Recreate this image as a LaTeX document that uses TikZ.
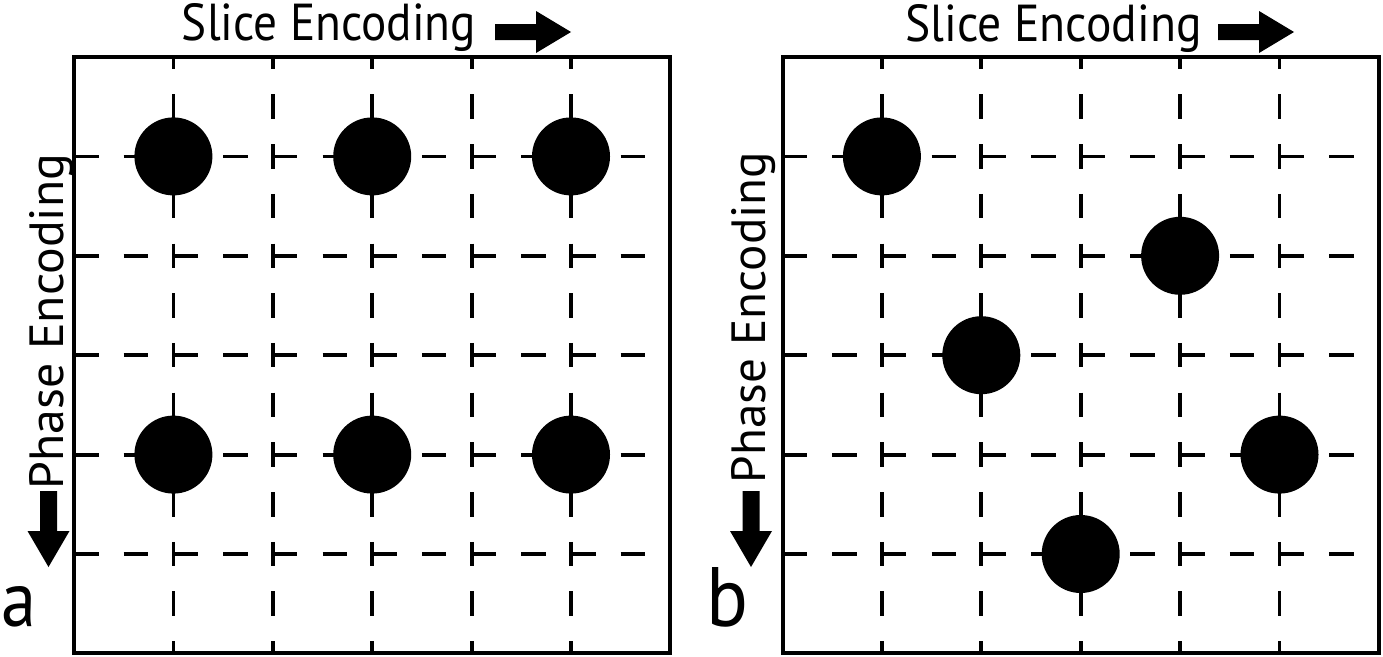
\documentclass[tikz,border=0pt]{standalone}
\usepackage{fontspec}
\setmainfont{PT Sans}
\usepackage{graphicx}
\tikzset{
  boxline/.style={line width=4pt},
  hgrid/.style={line width=3.8pt, dash pattern=on 24.5pt off 25.2pt, dash phase=0pt},
  vgrid/.style={line width=3.8pt, dash pattern=on 24.5pt off 25.2pt, dash phase=12.25pt},
  dot/.style={circle, fill=black, inner sep=0pt, minimum size=78pt},
  lbl/.style={inner sep=0pt, anchor=base},
}
\begin{document}
\begin{tikzpicture}[x=1pt,y=-1pt]
\useasboundingbox (0,0) rectangle (1383,656);
% ---------- panel a ----------
\begin{scope}[shift={(74,57)}]
  \foreach \k in {1,...,5} {
    \draw[vgrid] (\k*99.4,0) -- (\k*99.4,596.4);
    \draw[hgrid] (0,\k*99.4) -- (596.4,\k*99.4);
  }
  \draw[boxline] (0,0) rectangle (596.4,596.4);
  \node[dot] (a11) at (99.4,99.4) {};
  \node[dot] (a31) at (298.2,99.4) {};
  \node[dot] (a51) at (497,99.4) {};
  \node[dot] (a14) at (99.4,397.6) {};
  \node[dot] (a34) at (298.2,397.6) {};
  \node[dot] (a54) at (497,397.6) {};
\end{scope}
\node[lbl] (sliceA) at (329,40) {\resizebox{294pt}{37pt}{Slice Encoding}};
\fill (495,24) -- (536,24) -- (536,11) -- (571,32) -- (536,53) -- (536,40) -- (495,40) -- cycle;
\node[lbl, rotate=90] (phaseA) at (63,321.5) {\resizebox{335pt}{34pt}{Phase Encoding}};
\fill (40,491) -- (57,491) -- (57,531) -- (69.5,531) -- (48.5,567) -- (27.5,531) -- (40,531) -- cycle;
\node[lbl] (labA) at (19,626) {\resizebox{35pt}{40pt}{a}};
% ---------- panel b ----------
\begin{scope}[shift={(782.5,57)}]
  \foreach \k in {1,...,5} {
    \draw[vgrid] (\k*99.4,0) -- (\k*99.4,596.4);
    \draw[hgrid] (0,\k*99.4) -- (596.4,\k*99.4);
  }
  \draw[boxline] (0,0) rectangle (596.4,596.4);
  \node[dot] (b11) at (99.4,99.4) {};
  \node[dot] (b42) at (397.6,198.8) {};
  \node[dot] (b23) at (198.8,298.2) {};
  \node[dot] (b54) at (497,397.6) {};
  \node[dot] (b35) at (298.2,497) {};
\end{scope}
\node[lbl] (sliceB) at (1053.5,41) {\resizebox{296pt}{37pt}{Slice Encoding}};
\fill (1218,24) -- (1259,24) -- (1259,11) -- (1294,32) -- (1259,53) -- (1259,40) -- (1218,40) -- cycle;
\node[lbl, rotate=90] (phaseB) at (765,317.5) {\resizebox{331pt}{34pt}{Phase Encoding}};
\fill (742.5,491) -- (759.5,491) -- (759.5,531) -- (772,531) -- (751,567) -- (730,531) -- (742.5,531) -- cycle;
\node[lbl] (labB) at (727,626) {\resizebox{42pt}{59pt}{b}};
\end{tikzpicture}
\end{document}
